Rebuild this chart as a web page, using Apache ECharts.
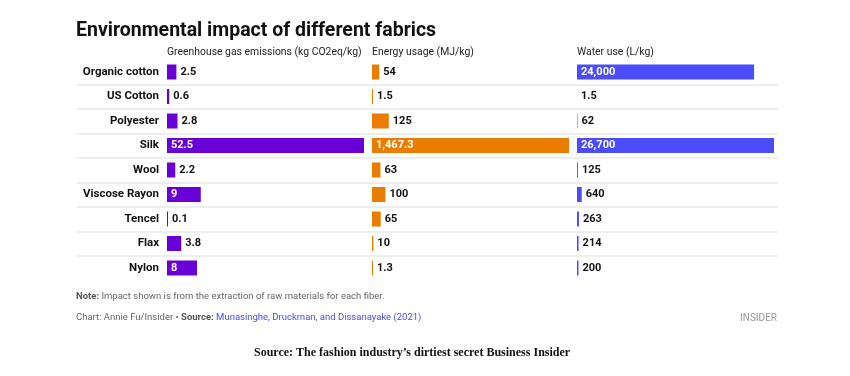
<!DOCTYPE html>
<html>
<head>
<meta charset="utf-8">
<script src="https://cdn.jsdelivr.net/npm/echarts@6/dist/echarts.min.js"></script>
<style>
  html, body { margin: 0; padding: 0; background: #fff; }
  #chart { width: 850px; height: 376px; }
</style>
</head>
<body>
<div id="chart"></div>
<script>
const categories = ["Organic cotton", "US Cotton", "Polyester", "Silk", "Wool", "Viscose Rayon", "Tencel", "Flax", "Nylon"];
const ghgValues = [2.5, 0.6, 2.8, 52.5, 2.2, 9, 0.1, 3.8, 8];
const energyValues = [54, 1.5, 125, 1467.3, 63, 100, 65, 10, 1.3];
const waterValues = [24000, 1.5, 62, 26700, 125, 640, 263, 214, 200];
const headers = ["Greenhouse gas emissions (kg CO2eq/kg)", "Energy usage (MJ/kg)", "Water use (L/kg)"];

const font = "Roboto";
const colors = ["#6a00d8", "#ea7c00", "#4b4cfa"];
const lefts = [167, 372, 577];
const panelWidth = 197;
const gridTop = 59.75;
const gridHeight = 220.5;

const chart = echarts.init(document.getElementById("chart"));

const panels = [ghgValues, energyValues, waterValues];

// white label inside when bar is wide enough, else dark label after the bar
const toItems = (values) => {
  const max = Math.max(...values);
  return values.map((v) => {
    const inside = v / max > 0.12;
    return {
      value: v,
      label: {
        position: inside ? "insideLeft" : "right",
        color: inside ? "#fff" : "#111",
      },
    };
  });
};

const grids = lefts.map((l) => ({ left: l, width: panelWidth, top: gridTop, height: gridHeight }));
grids.push({ left: 77, width: 701, top: gridTop, height: gridHeight });

const xAxes = panels.map((vals, i) => ({
  type: "value",
  gridIndex: i,
  min: 0,
  max: Math.max(...vals),
  show: false,
}));
xAxes.push({ type: "value", gridIndex: 3, show: false });

const yAxes = panels.map((vals, i) => ({
  type: "category",
  gridIndex: i,
  data: categories,
  inverse: true,
  axisLine: { show: false },
  axisTick: { show: false },
  splitLine: { show: false },
  axisLabel: {
    show: i === 0,
    margin: 8,
    color: "#111",
    fontFamily: font,
    fontWeight: "bold",
    fontSize: 11.5,
  },
}));
yAxes.push({
  type: "category",
  gridIndex: 3,
  data: categories,
  inverse: true,
  axisLine: { show: false },
  axisTick: { show: false },
  axisLabel: { show: false },
  splitLine: {
    show: true,
    showMinLine: false,
    showMaxLine: false,
    lineStyle: { color: "#e8e8e8", width: 1.5 },
  },
});

const series = panels.map((vals, i) => ({
  type: "bar",
  xAxisIndex: i,
  yAxisIndex: i,
  data: toItems(vals),
  barWidth: 15,
  barMinHeight: i < 2 ? 1 : 0,
  itemStyle: { color: colors[i] },
  label: {
    show: true,
    distance: 4,
    fontFamily: font,
    fontWeight: "bold",
    fontSize: 11,
    formatter: (p) => p.value.toLocaleString("en-US"),
  },
}));
series.push({ type: "bar", xAxisIndex: 3, yAxisIndex: 3, data: [], silent: true });

const titles = [
  {
    text: "Environmental impact of different fabrics",
    left: 76,
    top: 21,
    padding: 0,
    textStyle: { fontFamily: font, fontWeight: "bold", fontSize: 19.5, color: "#111" },
  },
];
headers.forEach((h, i) => {
  titles.push({
    text: h,
    left: lefts[i],
    top: 47,
    padding: 0,
    textStyle: { fontFamily: font, fontWeight: "normal", fontSize: 10.4, color: "#222" },
  });
});
titles.push({
  text: "{b|Note:} Impact shown is from the extraction of raw materials for each fiber.",
  left: 76,
  top: 292,
  padding: 0,
  textStyle: {
    fontFamily: font,
    fontSize: 9.5,
    fontWeight: "normal",
    color: "#666",
    rich: { b: { fontFamily: font, fontSize: 9.5, fontWeight: "bold", color: "#555" } },
  },
});
titles.push({
  text: "Chart: Annie Fu/Insider • {b|Source:} {l|Munasinghe, Druckman, and Dissanayake (2021)}",
  left: 76,
  top: 313,
  padding: 0,
  textStyle: {
    fontFamily: font,
    fontSize: 9.5,
    fontWeight: "normal",
    color: "#666",
    rich: {
      b: { fontFamily: font, fontSize: 9.5, fontWeight: "bold", color: "#555" },
      l: { fontFamily: font, fontSize: 9.5, fontWeight: "normal", color: "#4a4cf0" },
    },
  },
});
titles.push({
  text: "INSIDER",
  right: 73,
  top: 313,
  padding: 0,
  textStyle: { fontFamily: font, fontSize: 10, color: "#999", fontWeight: "normal" },
});
titles.push({
  text: "Source: The fashion industry’s dirtiest secret Business Insider",
  left: 254,
  top: 347,
  padding: 0,
  textStyle: { fontFamily: "Liberation Serif", fontWeight: "bold", fontSize: 12, color: "#111" },
});

chart.setOption({
  backgroundColor: "#fff",
  animation: false,
  title: titles,
  grid: grids,
  xAxis: xAxes,
  yAxis: yAxes,
  series: series,
});
</script>
</body>
</html>
